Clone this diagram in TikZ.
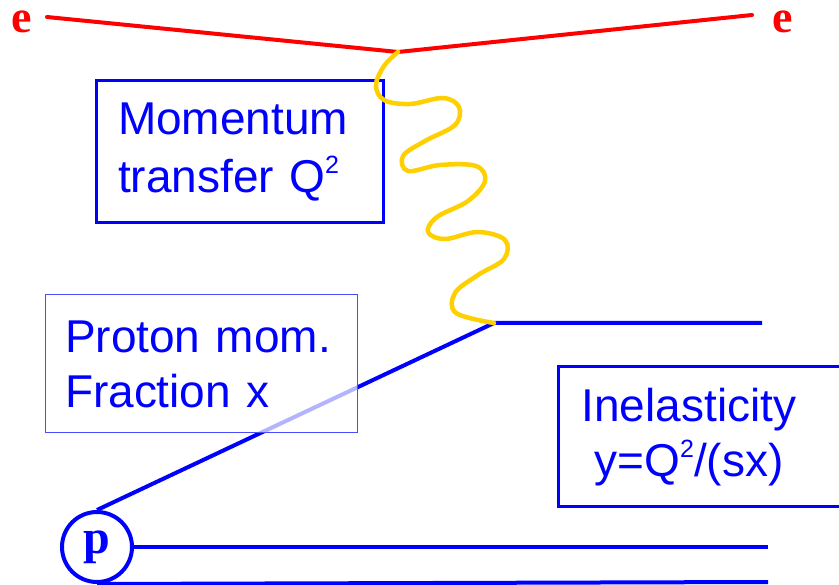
\documentclass[tikz,border=0pt]{standalone}
\usepackage{fontspec}
\setmainfont{Liberation Sans}
\newfontfamily\timesf{Liberation Serif}
\definecolor{pblue}{RGB}{0,0,255}
\definecolor{pred}{RGB}{255,0,0}
\definecolor{pgold}{RGB}{255,208,0}
\newcommand{\sqtwo}{\raisebox{19pt}{\fontsize{25}{25}\selectfont 2}}
\begin{document}
\begin{tikzpicture}[x=1pt,y=-1pt,
  elec/.style={draw=pred,line width=4pt,line cap=round},
  quark/.style={draw=pblue,line width=4pt},
  photon/.style={draw=pgold,line width=4.5pt,line cap=round},
  lbl/.style={text=pblue,font=\fontsize{46}{58}\selectfont},
  partlbl/.style={font=\timesf\bfseries\fontsize{46}{50}\selectfont,inner sep=0pt}]
\useasboundingbox (0,0) rectangle (839,585);
% electron
\coordinate (ein) at (47,17);
\coordinate (v) at (398,52);
\coordinate (eout) at (752,15);
\node[partlbl,text=pred] (e1) at (22,22) {e};
\node[partlbl,text=pred] (e2) at (783,22) {e};
\draw[elec] (ein) -- (v) -- (eout);
% proton
\node[draw=pblue,line width=4pt,circle,minimum size=70pt,inner sep=0pt,
      text=pblue,font=\timesf\bfseries\fontsize{48}{50}\selectfont] (p) at (97,547) {p};
\coordinate (h) at (494,323);
\coordinate (hout) at (762,323);
\coordinate (s1) at (768,547);
\coordinate (s2) at (768,582);
\draw[quark] (p.north) -- (h) -- (hout);
\draw[quark] (p.east) -- (s1);
\draw[quark] (p.south) -- (s2);
% boxes
\node[lbl,draw=pblue,line width=3pt,anchor=north west,minimum width=287pt,minimum height=142pt,
      text width=243pt,inner xsep=22pt,align=left] (mt) at (94.5,79.5)
      {Momentum\\transfer Q\sqtwo};
\node[lbl,font=\fontsize{46}{55}\selectfont,draw=pblue!70,line width=1pt,fill=white,fill opacity=0.7,
      text opacity=1,draw opacity=1,anchor=north west,minimum width=312pt,minimum height=138pt,
      text width=272pt,inner xsep=20pt,align=left] (px) at (44.5,294.5)
      {Proton mom.\\Fraction x};
\draw[draw=pblue,line width=3pt] (558.5,366.5) rectangle (860,506.5);
\node[lbl,font=\fontsize{46}{55}\selectfont,align=center] (inel) at (689,437.6)
      {Inelasticity\\y=Q\sqtwo/(sx)};
% photon
\draw[photon] plot[smooth,tension=0.6] coordinates {(v) (384,66) (376,85) (384,100) (410,104)
  (443,98) (459,107) (455,125) (425,141) (403,156) (408,171) (440,165) (476,166) (485,181)
  (468,201) (437,217) (428,232) (445,239) (478,232) (505,240) (504,259) (478,275) (455,293)
  (456,313) (h)};
\end{tikzpicture}
\end{document}
